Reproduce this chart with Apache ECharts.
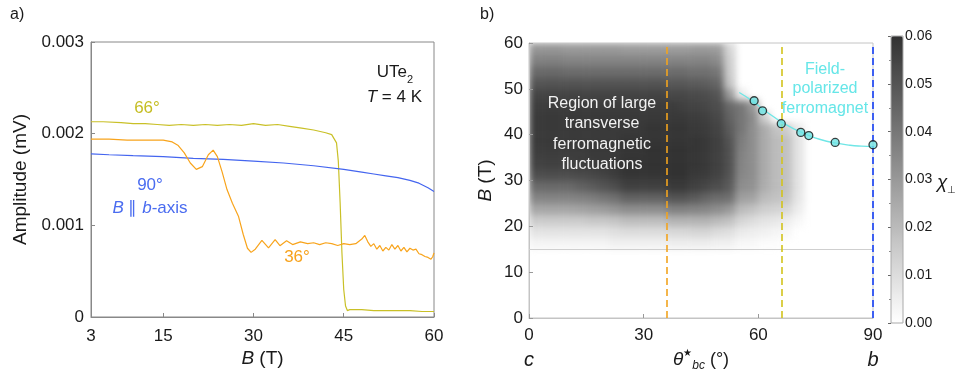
<!DOCTYPE html>
<html lang="en">
<head>
<meta charset="UTF-8">
<title>UTe2 amplitude and transverse susceptibility</title>
<script src="https://cdn.jsdelivr.net/npm/echarts@6/dist/echarts.min.js"></script>
<style>
  body { margin: 0; background: #fff; }
  #wrap { position: relative; width: 960px; height: 376px; }
  #heat, #chart { position: absolute; left: 0; top: 0; width: 960px; height: 376px; }
  /* soften the measured map the way the original interpolated image looks */
  #heat { filter: blur(3.5px); clip-path: inset(43px 87px 58px 529px); }
</style>
</head>
<body>
<div id="wrap">
  <div id="heat"></div>
  <div id="chart"></div>
</div>
<script>
// ---- panel a): amplitude vs field, B in T, amplitude in mV
const field66 = [3, 5, 8, 10, 12, 14, 16, 18, 20, 22, 24, 26, 28, 30, 32, 34, 36, 38, 40, 42, 43, 43.8, 44.1, 44.4, 44.7, 45, 45.3, 45.6, 46, 48, 50, 52, 54, 56, 58, 60];
const amp66 = [0.00213, 0.00213, 0.00212, 0.00211, 0.00211, 0.0021, 0.00209, 0.0021, 0.00209, 0.0021, 0.00209, 0.0021, 0.00209, 0.00211, 0.00209, 0.0021, 0.00208, 0.00206, 0.00204, 0.00201, 0.00199, 0.0019, 0.0017, 0.00125, 0.0007, 0.0003, 0.00012, 0.00007, 0.00008, 0.00008, 0.00007, 0.00007, 0.00007, 0.00007, 0.00006, 0.00006];

const field90 = [3, 6, 10, 15, 20, 25, 30, 35, 40, 45, 48, 50, 52, 54, 56, 57.5, 59, 60];
const amp90 = [0.00178, 0.00177, 0.00176, 0.00175, 0.00173, 0.00172, 0.0017, 0.00168, 0.00165, 0.00161, 0.00158, 0.00156, 0.00154, 0.00152, 0.00149, 0.00146, 0.00141, 0.00137];

const field36 = [3, 6, 9, 12, 15, 16.5, 17.5, 18.5, 19.5, 20.5, 21.5, 22.5, 23.3, 24, 24.8, 25.6, 26.5, 27.5, 28.3, 29, 29.6, 30.3, 31.4, 32.5, 33.6, 34.4, 35.5, 36.5, 37.8, 39, 40, 41, 42, 43, 44, 45, 46, 47, 48, 48.5, 49, 49.5, 50, 50.5, 51, 51.5, 52, 52.5, 53, 53.5, 54, 54.5, 55, 55.5, 56, 56.5, 57, 57.5, 58, 58.5, 59, 59.5, 59.8, 60];
const amp36 = [0.00194, 0.00194, 0.00193, 0.00193, 0.00193, 0.00191, 0.00187, 0.00179, 0.00168, 0.00161, 0.00164, 0.00177, 0.00182, 0.00175, 0.00158, 0.00139, 0.00124, 0.0011, 0.0009, 0.00075, 0.000705, 0.00074, 0.000836, 0.000753, 0.000843, 0.000778, 0.000832, 0.00079, 0.00082, 0.0008, 0.00081, 0.00079, 0.00081, 0.0008, 0.00078, 0.0008, 0.00079, 0.0008, 0.00085, 0.00089, 0.00082, 0.00077, 0.0008, 0.00074, 0.00078, 0.00072, 0.00076, 0.00073, 0.00079, 0.00074, 0.00078, 0.00072, 0.00076, 0.00071, 0.00075, 0.00073, 0.00074, 0.00069, 0.00068, 0.00066, 0.00065, 0.00063, 0.00066, 0.0007];

const fieldTicks = [3, 15, 30, 45, 60];

// ---- panel b): transverse susceptibility map, 3 deg x 2.5 T cells, B from 15 T up, values in 1e-3
const thetaBins = Array.from({ length: 30 }, (_, i) => (i * 3) + '-' + (i * 3 + 3));
const fieldBins = Array.from({ length: 24 }, (_, i) => (i * 2.5) + '-' + (i * 2.5 + 2.5));
const chiRows = [
  [3, 3, 3, 3, 3, 3, 3, 4, 4, 4, 4, 4, 5, 5, 5, 5, 4, 4, 2, 2, 1, 1, 0, 0],
  [8, 8, 8, 8, 8, 8, 8, 9, 10, 10, 10, 10, 11, 11, 12, 12, 10, 9, 6, 5, 4, 3, 2, 0],
  [15, 15, 15, 15, 15, 16, 16, 17, 19, 19, 19, 19, 22, 22, 22, 22, 20, 18, 12, 10, 8, 7, 5, 2],
  [26, 26, 26, 26, 27, 28, 29, 31, 33, 33, 33, 33, 37, 37, 36, 35, 33, 30, 20, 18, 14, 13, 11, 5],
  [36, 36, 36, 36, 37, 38, 40, 42, 46, 46, 46, 46, 50, 50, 48, 45, 43, 42, 28, 27, 20, 18, 16, 7],
  [44, 44, 44, 44, 46, 48, 50, 52, 56, 56, 56, 56, 58, 58, 56, 54, 52, 48, 33, 32, 24, 20, 18, 8],
  [52, 52, 52, 52, 53, 54, 55, 57, 59, 59, 59, 59, 60, 60, 58, 57, 55, 50, 35, 33, 25, 20, 18, 8],
  [56, 56, 56, 56, 57, 57, 58, 58, 60, 60, 60, 60, 60, 60, 59, 58, 56, 51, 36, 33, 25, 20, 18, 8],
  [57, 57, 57, 57, 57, 58, 58, 58, 59, 59, 60, 60, 60, 60, 59, 58, 56, 51, 37, 33, 25, 20, 18, 8],
  [58, 58, 58, 58, 58, 58, 58, 58, 59, 59, 59, 59, 59, 59, 59, 58, 56, 50, 38, 33, 25, 20, 18, 8],
  [58, 58, 58, 58, 58, 58, 58, 58, 58, 58, 59, 59, 59, 59, 58, 57, 55, 48, 40, 33, 25, 18, 14, 6],
  [58, 58, 58, 58, 58, 58, 58, 58, 58, 58, 58, 58, 58, 58, 57, 56, 54, 46, 40, 34, 15, 0, 0, 0],
  [57, 57, 57, 57, 57, 57, 57, 57, 57, 57, 57, 57, 57, 56, 55, 54, 52, 44, 40, 30, 0, 0, 0, 0],
  [55, 55, 55, 55, 55, 55, 55, 55, 55, 55, 55, 55, 54, 54, 53, 52, 50, 30, 6, 0, 0, 0, 0, 0],
  [50, 50, 50, 50, 50, 50, 50, 50, 50, 50, 50, 50, 49, 49, 48, 47, 45, 17, 0, 0, 0, 0, 0, 0],
  [44, 44, 44, 43, 43, 43, 43, 43, 43, 43, 43, 43, 43, 43, 42, 42, 40, 15, 0, 0, 0, 0, 0, 0],
  [37, 37, 37, 36, 36, 36, 36, 36, 36, 36, 36, 36, 36, 36, 36, 36, 34, 14, 0, 0, 0, 0, 0, 0],
  [31, 31, 31, 30, 30, 30, 30, 30, 29, 29, 29, 29, 29, 29, 30, 30, 29, 12, 0, 0, 0, 0, 0, 0]
];
const firstRow = 6; // 15 T

// transition line and points
const curveTheta = [55, 58, 61, 64, 67, 70, 73, 76, 80, 84, 87, 90];
const curveB = [49.2, 47.6, 45.7, 43.9, 42.3, 41.0, 39.9, 39.0, 38.2, 37.7, 37.5, 37.4];
const pointTheta = [58.9, 61.1, 66.0, 71.1, 73.2, 80.1, 90];
const pointB = [47.4, 45.2, 42.4, 40.5, 39.8, 38.3, 37.8];

const cutAngles = [36, 66, 90];
const cutColors = ['#f2a41e', '#d2c31c', '#3d5ff2'];

const FONT = 'Liberation Sans, Arial, Helvetica, sans-serif';
const zip = (a, b) => a.map((v, i) => [v, b[i]]);
const grayScale = ['#ffffff', '#323232'];

const heatData = [];
chiRows.forEach((row, r) => row.forEach((v, c) => {
  if (v > 0) heatData.push([c, r + firstRow, v / 1000]);
}));

// map layer (blurred underneath)
const heat = echarts.init(document.getElementById('heat'));
heat.setOption({
  animation: false,
  grid: { left: 529, top: 43, width: 344, height: 275, outerBoundsMode: 'none' },
  xAxis: { type: 'category', data: thetaBins, show: false },
  yAxis: { type: 'category', data: fieldBins, show: false },
  visualMap: { show: false, min: 0, max: 0.06, inRange: { color: grayScale } },
  series: [{ type: 'heatmap', data: heatData, progressive: 0 }]
});

const chart = echarts.init(document.getElementById('chart'));
const tickLabel = { color: '#1a1a1a', fontSize: 17, fontFamily: FONT };

chart.setOption({
  animation: false,
  textStyle: { fontFamily: FONT },
  grid: [
    { left: 91, top: 42, width: 343, height: 275, outerBoundsMode: 'none', show: true, borderColor: '#888', borderWidth: 1 },
    { left: 529, top: 43, width: 344, height: 275, outerBoundsMode: 'none', show: true, borderColor: '#c4c4c4', borderWidth: 1 },
    { left: 891, top: 36, width: 12, height: 287, outerBoundsMode: 'none', show: true, borderColor: '#aaa', borderWidth: 1, z: 10 }
  ],
  xAxis: [
    {
      gridIndex: 0, type: 'value', min: 3, max: 60,
      axisLine: { lineStyle: { color: '#888' } },
      axisTick: { inside: true, length: 4, customValues: fieldTicks, lineStyle: { color: '#888' } },
      axisLabel: Object.assign({ customValues: fieldTicks, margin: 9, lineHeight: 20 }, tickLabel),
      splitLine: { show: false },
      name: '{i|B} (T)', nameLocation: 'middle', nameGap: 32, nameMoveOverlap: false,
      nameTextStyle: { fontSize: 19, color: '#1a1a1a', rich: { i: { fontStyle: 'italic', fontSize: 19 } } }
    },
    {
      gridIndex: 1, type: 'value', min: 0, max: 90, interval: 30,
      axisLine: { lineStyle: { color: '#c4c4c4' } },
      axisTick: { inside: true, length: 4, lineStyle: { color: '#999' } },
      axisLabel: Object.assign({
        margin: 5, lineHeight: 25,
        formatter: v => v === 0 ? '0\n{it|c}' : (v === 90 ? '90\n{it|b}' : String(v)),
        rich: { it: { fontStyle: 'italic', fontSize: 20, lineHeight: 25, color: '#1a1a1a' } }
      }, tickLabel),
      splitLine: { show: false },
      name: '{th|θ}{sup|★}{sub|bc} (°)', nameLocation: 'middle', nameGap: 30, nameMoveOverlap: false,
      nameTextStyle: {
        fontSize: 18, color: '#1a1a1a', lineHeight: 24,
        rich: {
          th: { fontStyle: 'italic', fontSize: 19, lineHeight: 24 },
          sup: { fontSize: 10, verticalAlign: 'top', lineHeight: 24 },
          sub: { fontStyle: 'italic', fontSize: 12, verticalAlign: 'bottom', lineHeight: 20 }
        }
      }
    },
    { gridIndex: 2, type: 'value', show: false }
  ],
  yAxis: [
    {
      gridIndex: 0, type: 'value', min: 0, max: 0.003, interval: 0.001,
      axisLine: { show: true, lineStyle: { color: '#888' } },
      axisTick: { inside: true, length: 4, lineStyle: { color: '#888' } },
      axisLabel: Object.assign({ margin: 7, formatter: v => v === 0 ? '0' : v.toFixed(3) }, tickLabel),
      splitLine: { show: false },
      name: 'Amplitude (mV)', nameLocation: 'middle', nameGap: 61, nameMoveOverlap: false,
      nameTextStyle: { fontSize: 19, color: '#1a1a1a' }
    },
    {
      gridIndex: 1, type: 'value', min: 0, max: 60, interval: 10,
      axisLine: { show: true, lineStyle: { color: '#c4c4c4' } },
      axisTick: { inside: true, length: 4, lineStyle: { color: '#999' } },
      axisLabel: Object.assign({ margin: 6 }, tickLabel),
      splitLine: { show: false },
      name: '{i|B} (T)', nameLocation: 'middle', nameGap: 34, nameMoveOverlap: false,
      nameTextStyle: { fontSize: 19, color: '#1a1a1a', rich: { i: { fontStyle: 'italic', fontSize: 19 } } }
    },
    {
      gridIndex: 2, type: 'value', min: 0, max: 0.06, interval: 0.01, position: 'right',
      axisLine: { show: false },
      axisTick: { inside: true, length: 3, lineStyle: { color: '#666' } },
      minorTick: { show: true, splitNumber: 2, length: 2, lineStyle: { color: '#888' } },
      axisLabel: { margin: 2, fontSize: 14, color: '#1a1a1a', fontFamily: FONT, formatter: v => v.toFixed(2) },
      splitLine: { show: false }
    }
  ],
  // colour bar of the map
  visualMap: {
    type: 'continuous', seriesIndex: [], min: 0, max: 0.06,
    left: 891, top: 36, itemWidth: 12, itemHeight: 287, padding: 0,
    calculable: false, inRange: { color: grayScale }
  },
  series: [
    {
      type: 'line', xAxisIndex: 0, yAxisIndex: 0, data: zip(field66, amp66),
      showSymbol: false, lineStyle: { color: '#c9c027', width: 1.2 }
    },
    {
      type: 'line', xAxisIndex: 0, yAxisIndex: 0, data: zip(field90, amp90),
      showSymbol: false, lineStyle: { color: '#4465ef', width: 1.2 }
    },
    {
      type: 'line', xAxisIndex: 0, yAxisIndex: 0, data: zip(field36, amp36),
      showSymbol: false, lineStyle: { color: '#f8a41c', width: 1.2 }
    },
    {
      type: 'line', xAxisIndex: 1, yAxisIndex: 1, data: [],
      markLine: {
        silent: true, symbol: 'none', label: { show: false },
        data: [{ yAxis: 15, lineStyle: { color: '#cfcfcf', type: 'solid', width: 1 } }].concat(
          cutAngles.map((a, i) => ({ xAxis: a, lineStyle: { color: cutColors[i], type: [7, 4], width: i === 2 ? 2 : 1.6 } }))
        )
      }
    },
    {
      type: 'line', xAxisIndex: 1, yAxisIndex: 1, data: zip(curveTheta, curveB), smooth: true,
      showSymbol: false, lineStyle: { color: '#6fe6e6', width: 1.4 }
    },
    {
      type: 'scatter', xAxisIndex: 1, yAxisIndex: 1, data: zip(pointTheta, pointB), clip: false,
      symbolSize: 8, itemStyle: { color: '#6fe3e3', borderColor: '#111', borderWidth: 1.3 }, z: 5
    }
  ],
  graphic: [
    { type: 'text', x: 10, y: 15, style: { text: 'a)', font: '16px ' + FONT, fill: '#1a1a1a', textVerticalAlign: 'middle' } },
    { type: 'text', x: 480, y: 15, style: { text: 'b)', font: '16px ' + FONT, fill: '#1a1a1a', textVerticalAlign: 'middle' } },
    { type: 'text', x: 147, y: 108, style: { text: '66°', font: '17px ' + FONT, fill: '#c5bd22', textAlign: 'center', textVerticalAlign: 'middle' } },
    { type: 'text', x: 150, y: 185, style: { text: '90°', font: '17px ' + FONT, fill: '#4a6cf0', textAlign: 'center', textVerticalAlign: 'middle' } },
    {
      type: 'text', x: 150, y: 208,
      style: {
        text: '{i|B} ∥ {i|b}-axis', font: '17px ' + FONT, fill: '#4a6cf0', textAlign: 'center', textVerticalAlign: 'middle',
        rich: { i: { fontStyle: 'italic', fontSize: 17, fill: '#4a6cf0' } }
      }
    },
    { type: 'text', x: 297, y: 257, style: { text: '36°', font: '17px ' + FONT, fill: '#f7a21c', textAlign: 'center', textVerticalAlign: 'middle' } },
    {
      type: 'text', x: 413, y: 72,
      style: {
        text: 'UTe{s|2}', font: '17px ' + FONT, fill: '#1a1a1a', textAlign: 'right', textVerticalAlign: 'middle',
        rich: { s: { fontSize: 11, verticalAlign: 'bottom', lineHeight: 26, fill: '#1a1a1a' } }
      }
    },
    {
      type: 'text', x: 422, y: 97,
      style: {
        text: '{i|T} = 4 K', font: '17px ' + FONT, fill: '#1a1a1a', textAlign: 'right', textVerticalAlign: 'middle',
        rich: { i: { fontStyle: 'italic', fontSize: 17, fill: '#1a1a1a' } }
      }
    },
    {
      type: 'text', x: 602, y: 134, z: 20,
      style: {
        text: 'Region of large\ntransverse\nferromagnetic\nfluctuations', font: '16px ' + FONT, lineHeight: 20.5,
        fill: '#f2f2f2', textAlign: 'center', textVerticalAlign: 'middle'
      }
    },
    {
      type: 'text', x: 825, y: 89, z: 20,
      style: {
        text: 'Field-\npolarized\nferromagnet', font: '16px ' + FONT, lineHeight: 19.5,
        fill: '#66e6e8', textAlign: 'center', textVerticalAlign: 'middle'
      }
    },
    {
      type: 'text', x: 937, y: 183,
      style: {
        text: '{c|χ}{s|⊥}', fill: '#1a1a1a', textAlign: 'left', textVerticalAlign: 'middle',
        rich: { c: { fontStyle: 'italic', fontSize: 19, fontFamily: FONT }, s: { fontSize: 10, verticalAlign: 'bottom', lineHeight: 24, fontFamily: FONT } }
      }
    }
  ]
});
</script>
</body>
</html>
